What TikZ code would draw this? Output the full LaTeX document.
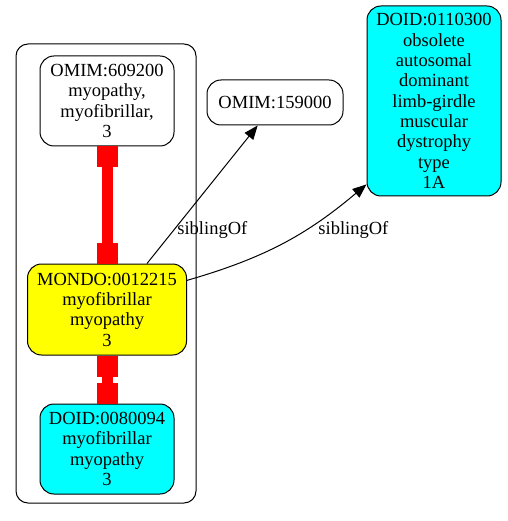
\documentclass[tikz,border=0pt]{standalone}
\usepackage{fontspec}
\setmainfont{Liberation Serif}
\usepackage{xcolor}
\definecolor{term-cyan}{HTML}{00FFFF}
\definecolor{term-yellow}{HTML}{FFFF00}
\definecolor{link-red}{HTML}{FF0000}
\usepackage{tikz}
\usetikzlibrary{arrows.meta}

\tikzset{
  term/.style={draw=black, line width=1pt, rounded corners=14pt, inner sep=0pt,
    align=center, font=\fontsize{18.5}{20.3}\selectfont},
  redlink/.style={draw=link-red, line width=11pt,
    arrows={Square[length=21pt,width=21pt,line width=0pt]-Square[length=21pt,width=21pt,line width=0pt]}},
  sibling/.style={draw=black, line width=1pt, -{Triangle[length=14pt,width=11pt]},
    font=\fontsize{18.5}{20.3}\selectfont},
}

\begin{document}
\begin{tikzpicture}[x=1pt, y=-1pt]

    % Background
    \fill[white] (0, 0) rectangle (507, 521);
    \useasboundingbox (0, 0) rectangle (507, 521);

    % Cluster
    \draw[line width=1pt, rounded corners=12pt] (16, 44) rectangle (196, 503);

    % Terms
    \node[term, minimum width=134, minimum height=90] (omimA) at (107, 101)
      {OMIM:609200\\myopathy,\\myofibrillar,\\3};
    \node[term, minimum width=136, minimum height=45] (omimB) at (275, 102.5)
      {OMIM:159000};
    \node[term, fill=term-cyan, minimum width=134, minimum height=190] (doidA) at (434, 101)
      {DOID:0110300\\obsolete\\autosomal\\dominant\\limb-girdle\\muscular\\dystrophy\\type\\1A};
    \node[term, fill=term-yellow, minimum width=159, minimum height=91] (mondo) at (107, 309.5)
      {MONDO:0012215\\myofibrillar\\myopathy\\3};
    \node[term, fill=term-cyan, minimum width=134, minimum height=90] (doidB) at (107, 449)
      {DOID:0080094\\myofibrillar\\myopathy\\3};

    % Equivalence links
    \draw[redlink] (omimA.south) -- (mondo.north);
    \draw[redlink] (mondo.south) -- (doidB.north);

    % Sibling links
    \draw[sibling] (mondo.49) -- node[pos=0.24, anchor=west] {siblingOf} (omimB.233);
    \draw[sibling] (mondo.20) to[bend right=12]
      node[pos=0.72, anchor=north west, xshift=-4, yshift=4] {siblingOf} (doidA.231);

\end{tikzpicture}
\end{document}
